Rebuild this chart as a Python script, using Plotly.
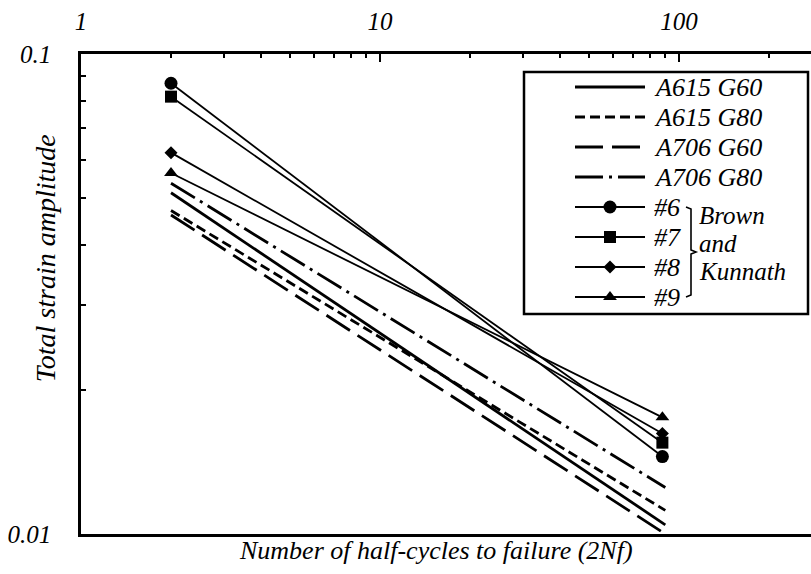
import plotly.graph_objects as go

# ---------------- data ----------------
fit_x = [2, 90]
fit_names = ["A615 G60", "A615 G80", "A706 G60", "A706 G80"]
fit_a615_g60 = [0.0514, 0.01045]
fit_a615_g80 = [0.0472, 0.0112]
fit_a706_g60 = [0.0462, 0.0100]
fit_a706_g80 = [0.0538, 0.0125]

bk_x = [2, 88]
bk_names = ["#6", "#7", "#8", "#9"]
bk_6 = [0.0869, 0.0145]
bk_7 = [0.0815, 0.0155]
bk_8 = [0.0623, 0.0162]
bk_9 = [0.0565, 0.0175]

x_tick_vals = [1, 10, 100]
x_tick_text = ["1", "10", "100"]
y_tick_vals = [0.01, 0.1]
y_tick_text = ["0.01", "0.1"]
x_minor_vals = [2, 3, 4, 5, 6, 7, 8, 9, 20, 30, 40, 50, 60, 70, 80, 90, 200]
y_minor_vals = [0.02, 0.03, 0.04, 0.05, 0.06, 0.07, 0.08, 0.09]

group_label = ["Brown", "and", "Kunnath"]
x_title = "Number of half-cycles to failure (2Nf)"
y_title = "Total strain amplitude"

# ---------------- styles ----------------
FONT = "Liberation Serif, Times New Roman, serif"
fit_series = [fit_a615_g60, fit_a615_g80, fit_a706_g60, fit_a706_g80]
fit_dash = ["solid", "10px,5px", "28px,9px", "28px,6px,3px,6px"]
bk_series = [bk_6, bk_7, bk_8, bk_9]
bk_symbol = ["circle", "square", "diamond", "triangle-up"]
bk_size = [13, 12, 10, 12]

W, H = 811, 574
ML, MR, MT, MB = 81, 0, 54, 40


def tfont(size):
    return dict(family=FONT, size=size, style="italic", color="black")


fig = go.Figure()

for name, ys, dash in zip(fit_names, fit_series, fit_dash):
    fig.add_trace(go.Scatter(x=fit_x, y=ys, mode="lines", name=name,
                             line=dict(color="black", width=2.8, dash=dash),
                             showlegend=False))
for name, ys, sym, sz in zip(bk_names, bk_series, bk_symbol, bk_size):
    fig.add_trace(go.Scatter(x=bk_x, y=ys, mode="lines+markers", name=name,
                             line=dict(color="black", width=1.8),
                             marker=dict(symbol=sym, size=sz, color="black"),
                             showlegend=False, cliponaxis=False))

# ---------------- manual legend (pixel-space overlay axes) ----------------
row0, row_step = 87, 30
sx0, sx1, smid, tx = 575, 645, 610, 652
legend_names = fit_names + bk_names
for i, name in enumerate(legend_names):
    ry = row0 + row_step * i
    if i < 4:
        fig.add_trace(go.Scatter(x=[sx0, sx1], y=[ry, ry], mode="lines",
                                 xaxis="x2", yaxis="y2", showlegend=False, hoverinfo="skip",
                                 line=dict(color="black", width=2.8, dash=fit_dash[i])))
    else:
        k = i - 4
        fig.add_trace(go.Scatter(x=[sx0, sx1], y=[ry, ry], mode="lines",
                                 xaxis="x2", yaxis="y2", showlegend=False, hoverinfo="skip",
                                 line=dict(color="black", width=1.8)))
        fig.add_trace(go.Scatter(x=[smid], y=[ry], mode="markers",
                                 xaxis="x2", yaxis="y2", showlegend=False, hoverinfo="skip",
                                 marker=dict(symbol=bk_symbol[k], size=bk_size[k], color="black")))
    fig.add_annotation(x=tx, y=ry, xref="x2", yref="y2", text=name, showarrow=False,
                       xanchor="left", yanchor="middle", font=tfont(26))

fig.add_shape(type="rect", xref="x2", yref="y2", x0=524, x1=808, y0=72, y1=314,
              line=dict(color="black", width=2.5), fillcolor="rgba(0,0,0,0)")
top_b, mid_b, bot_b = row0 + row_step * 4, row0 + row_step * 5.5, row0 + row_step * 7
fig.add_shape(type="path", xref="x2", yref="y2",
              path=(f"M 686 {top_b} L 691 {top_b+2} L 691 {mid_b-2} L 696 {mid_b} "
                    f"L 691 {mid_b+2} L 691 {bot_b-2} L 686 {bot_b}"),
              line=dict(color="black", width=1.6))
for j, t in enumerate(group_label):
    fig.add_annotation(x=697, y=215 + 28 * j, xref="x2", yref="y2", text=t,
                       showarrow=False, xanchor="left", yanchor="middle", font=tfont(25))

# ---------------- titles ----------------
fig.add_annotation(x=0.486, y=-0.034, xref="paper", yref="paper", text=x_title,
                   showarrow=False, xanchor="center", yanchor="middle", font=tfont(26))
fig.add_annotation(x=-0.049, y=0.575, xref="paper", yref="paper", text=y_title,
                   showarrow=False, textangle=-90, xanchor="center", yanchor="middle",
                   font=tfont(28))

fig.update_layout(
    width=W, height=H, margin=dict(l=ML, r=MR, t=MT, b=MB),
    paper_bgcolor="white", plot_bgcolor="white", showlegend=False,
    xaxis=dict(type="log", range=[0, 2.4415], side="top", showline=True, linecolor="black",
               linewidth=2.5, mirror=True, showgrid=False, zeroline=False,
               tickmode="array", tickvals=x_tick_vals, ticktext=x_tick_text,
               ticks="inside", ticklen=8, tickwidth=2, tickcolor="black",
               tickfont=tfont(25), ticklabelstandoff=11,
               minor=dict(tickmode="array", tickvals=x_minor_vals, ticks="inside",
                          ticklen=4, tickwidth=2, tickcolor="black", showgrid=False)),
    yaxis=dict(type="log", range=[-2, -1], showline=True, linecolor="black", linewidth=2.5,
               mirror=False, showgrid=False, zeroline=False,
               tickmode="array", tickvals=y_tick_vals, ticktext=y_tick_text,
               ticks="inside", ticklen=5, tickwidth=2, tickcolor="black",
               tickfont=tfont(25), ticklabelstandoff=22,
               minor=dict(tickmode="array", tickvals=y_minor_vals, ticks="inside",
                          ticklen=5, tickwidth=2, tickcolor="black", showgrid=False)),
    xaxis2=dict(overlaying="x", range=[ML, W - MR], visible=False, fixedrange=True),
    yaxis2=dict(overlaying="y", range=[H - MB, MT], visible=False, fixedrange=True),
)

fig.write_html("out.html")
